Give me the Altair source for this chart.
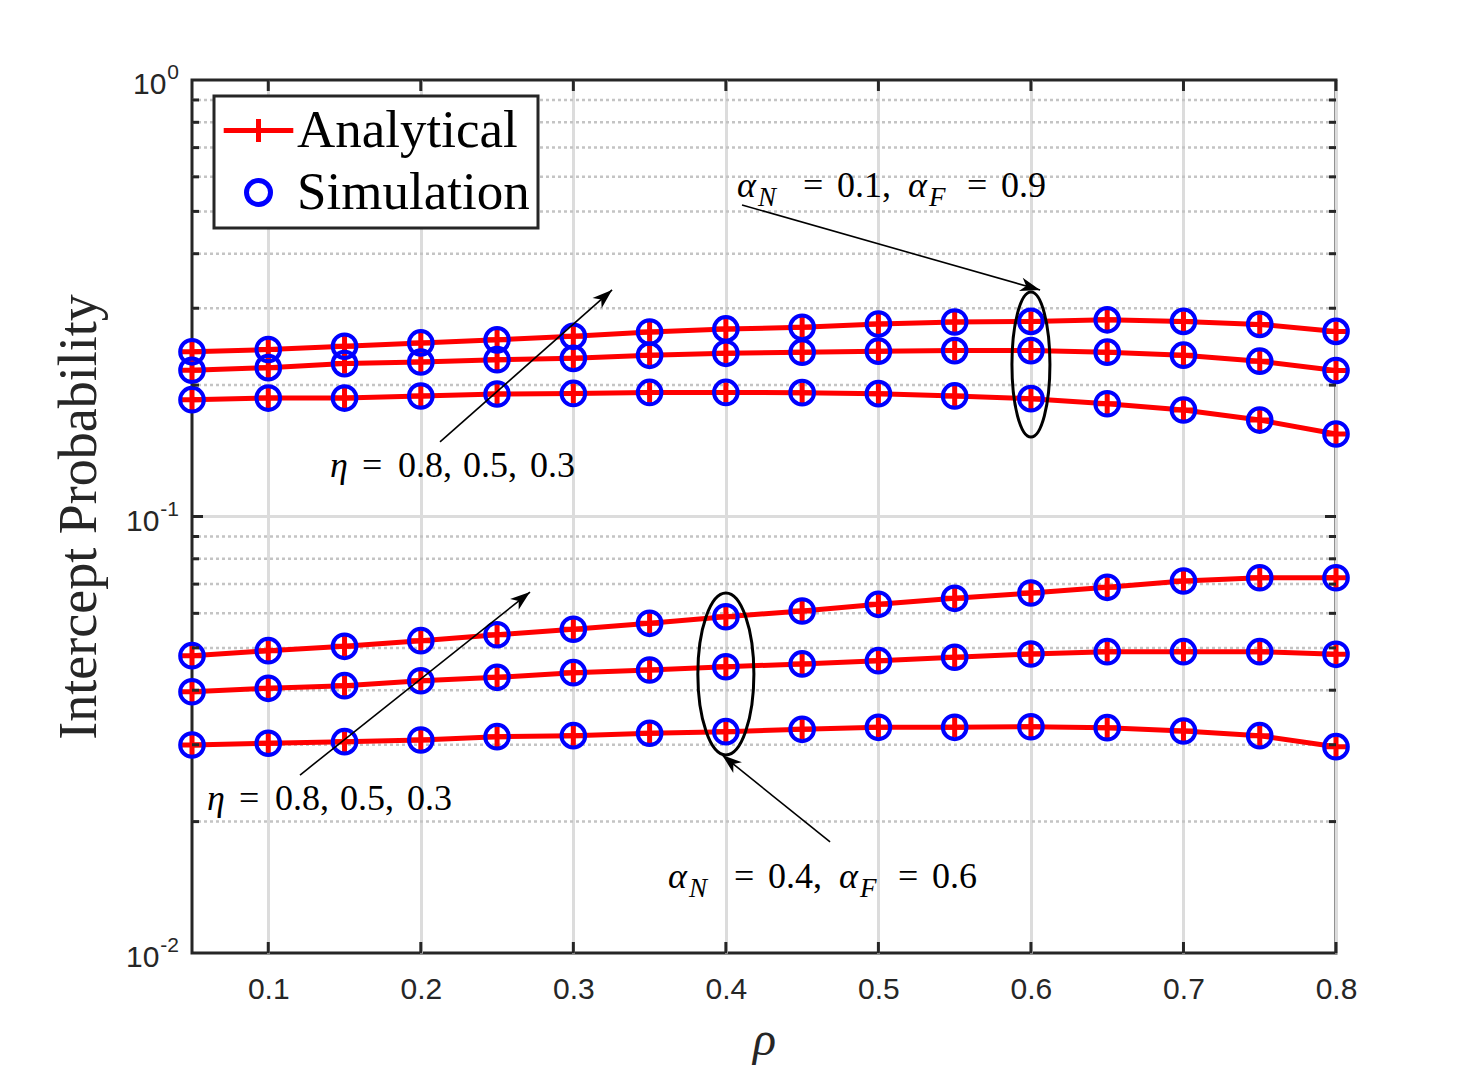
import math
import altair as alt
import pandas as pd

# ---------------------------------------------------------------- data
rho = [0.05, 0.10, 0.15, 0.20, 0.25, 0.30, 0.35, 0.40,
       0.45, 0.50, 0.55, 0.60, 0.65, 0.70, 0.75, 0.80]

# alpha_N = 0.1, alpha_F = 0.9  (eta = 0.8, 0.5, 0.3)
ip_a01_eta08 = [0.2384, 0.2413, 0.2455, 0.2498, 0.2539, 0.2587, 0.2647, 0.2690,
                0.2712, 0.2760, 0.2790, 0.2799, 0.2822, 0.2799, 0.2755, 0.2655]
ip_a01_eta05 = [0.2163, 0.2193, 0.2240, 0.2259, 0.2287, 0.2303, 0.2340, 0.2365,
                0.2379, 0.2392, 0.2399, 0.2399, 0.2379, 0.2342, 0.2269, 0.2160]
ip_a01_eta03 = [0.1852, 0.1868, 0.1868, 0.1888, 0.1908, 0.1914, 0.1924, 0.1924,
                0.1922, 0.1912, 0.1889, 0.1862, 0.1813, 0.1754, 0.1663, 0.1545]
# alpha_N = 0.4, alpha_F = 0.6  (eta = 0.8, 0.5, 0.3)
ip_a04_eta08 = [0.04799, 0.04927, 0.05042, 0.05194, 0.05360, 0.05516, 0.05692, 0.05894,
                0.06074, 0.06292, 0.06495, 0.06679, 0.06883, 0.07115, 0.07240, 0.07240]
ip_a04_eta05 = [0.03968, 0.04040, 0.04096, 0.04205, 0.04281, 0.04387, 0.04449, 0.04527,
                0.04594, 0.04674, 0.04759, 0.04842, 0.04901, 0.04901, 0.04901, 0.04834]
ip_a04_eta03 = [0.02996, 0.03023, 0.03049, 0.03076, 0.03130, 0.03147, 0.03187, 0.03214,
                0.03254, 0.03289, 0.03289, 0.03299, 0.03282, 0.03226, 0.03147, 0.02969]

analytical = {
    "a01_eta08": ip_a01_eta08, "a01_eta05": ip_a01_eta05, "a01_eta03": ip_a01_eta03,
    "a04_eta08": ip_a04_eta08, "a04_eta05": ip_a04_eta05, "a04_eta03": ip_a04_eta03,
}
# Monte-Carlo results coincide with the closed-form curves
simulation = {k: list(v) for k, v in analytical.items()}

series_names = ["Analytical", "Simulation"]
x_ticks = [0.1, 0.2, 0.3, 0.4, 0.5, 0.6, 0.7, 0.8]
y_major = [0.01, 0.1, 1.0]
y_exponents = ["-2", "-1", "0"]
y_minor = [m * d for d in (0.01, 0.1) for m in range(2, 10)]

# ---------------------------------------------------------------- geometry
W, H = 1144, 873
X_MIN, X_MAX = 0.05, 0.80
Y_MIN, Y_MAX = 0.01, 1.0

def px(r):
    return (r - X_MIN) / (X_MAX - X_MIN) * W

def py(p):
    return (math.log10(Y_MAX) - math.log10(p)) / (math.log10(Y_MAX) - math.log10(Y_MIN)) * H

INK = "#262626"
SERIF = "Liberation Serif"
SANS = "Liberation Sans"

x_scale = alt.Scale(domain=[X_MIN, X_MAX], nice=False, zero=False)
y_scale = alt.Scale(type="log", domain=[Y_MIN, Y_MAX], nice=False)

x_axis = alt.Axis(values=x_ticks, format=".1f", title="ρ", grid=True,
                  gridColor="#dcdcdc", gridWidth=3, ticks=False, domain=False,
                  labelFlush=False, labelFont=SANS, labelFontSize=30, labelColor=INK,
                  labelPadding=21, titleFont=SERIF, titleFontStyle="italic",
                  titleFontWeight="normal", titleFontSize=48, titleColor=INK,
                  titlePadding=12)
y_axis = alt.Axis(values=y_major, grid=False, ticks=False, domain=False, labels=False,
                  title="Intercept Probability", titleFont=SERIF, titleFontSize=54,
                  titleFontWeight="normal", titleColor=INK, titlePadding=86)

def X(field="rho"):
    return alt.X(f"{field}:Q", scale=x_scale, axis=x_axis)

def Y(field="ip"):
    return alt.Y(f"{field}:Q", scale=y_scale, axis=y_axis)

# ---------------------------------------------------------------- tables
ana_df = pd.DataFrame([
    {"rho": r, "ip": v, "curve": k}
    for k, vals in analytical.items() for r, v in zip(rho, vals)
])
sim_df = pd.DataFrame([
    {"rho": r, "ip": v, "curve": k}
    for k, vals in simulation.items() for r, v in zip(rho, vals)
])

# ---------------------------------------------------------------- grid
grid_minor = alt.Chart(pd.DataFrame({"ip": y_minor})).mark_rule(
    color="#c4c4c4", strokeWidth=2.5, strokeDash=[3, 3]
).encode(y=Y(), x=alt.value(0), x2=alt.value(W))

grid_major = alt.Chart(pd.DataFrame({"ip": [0.1]})).mark_rule(
    color="#dcdcdc", strokeWidth=3
).encode(y=Y(), x=alt.value(0), x2=alt.value(W))

# ---------------------------------------------------------------- y tick labels (10 with superscript exponent)
EXP_FS, BASE_FS = 21, 30

def exp_width(s):
    return sum(0.333 if c == "-" else 0.556 for c in s) * EXP_FS

ylabels = []
for v, e in zip(y_major, y_exponents):
    d = pd.DataFrame({"ip": [v]})
    ylabels.append(alt.Chart(d).mark_text(
        text=e, align="right", baseline="alphabetic", dy=-1,
        font=SANS, fontSize=EXP_FS, color=INK
    ).encode(y=Y(), x=alt.value(-13)))
    ylabels.append(alt.Chart(d).mark_text(
        text="10", align="right", baseline="alphabetic", dy=14,
        font=SANS, fontSize=BASE_FS, color=INK
    ).encode(y=Y(), x=alt.value(-14 - exp_width(e))))

# ---------------------------------------------------------------- curves
PLUS = "M-1,0L1,0M0,-1L0,1"
lines = alt.Chart(ana_df).mark_line(color="#ff0000", strokeWidth=5).encode(
    x=X(), y=Y(), detail="curve:N", order="rho:Q")
plus = alt.Chart(ana_df).mark_point(
    shape=PLUS, size=420, filled=False, stroke="#ff0000", strokeWidth=5, opacity=1
).encode(x=X(), y=Y())
circles = alt.Chart(sim_df).mark_point(
    shape="circle", size=560, filled=False, stroke="#0000ff", strokeWidth=4, opacity=1
).encode(x=X(), y=Y())

# ---------------------------------------------------------------- legend (scale-driven)
LEGEND_LINE_PLUS = "M-2.9,0L2.9,0M0,-0.95L0,0.95"
legend_props = dict(title=None, orient="none", legendX=22, legendY=16,
                    labelFont=SERIF, labelFontSize=53, labelColor="black", labelLimit=600,
                    labelOffset=12, symbolOffset=10, symbolSize=576,
                    symbolStrokeWidth=5, symbolOpacity=1, padding=8,
                    rowPadding=8, fillColor="white", strokeColor=INK)
legend_layer = alt.Chart(pd.DataFrame({"rho": [rho[0]] * 2, "ip": [ip_a01_eta08[0]] * 2,
                                       "kind": series_names})).mark_point(
    filled=False, strokeWidth=5
).encode(
    x=X(), y=Y(),
    shape=alt.Shape("kind:N", scale=alt.Scale(domain=series_names,
                                              range=[LEGEND_LINE_PLUS, "circle"]),
                    legend=alt.Legend(**legend_props)),
    color=alt.Color("kind:N", scale=alt.Scale(domain=series_names,
                                              range=["#ff0000", "#0000ff"]),
                    legend=alt.Legend(**legend_props)),
).transform_filter("false")

# ---------------------------------------------------------------- ellipses
def ellipse(center_rho, center_ip, half_w, half_h):
    rx = half_w / half_h
    path = f"M0,-1A{rx:.3f},1 0 1,1 0,1A{rx:.3f},1 0 1,1 0,-1Z"
    return alt.Chart(pd.DataFrame({"rho": [center_rho], "ip": [center_ip]})).mark_point(
        shape=path, size=(2 * half_h) ** 2, filled=False, stroke="black",
        strokeWidth=3, opacity=1
    ).encode(x=X(), y=Y())

ell_top = ellipse(0.60, 0.2229, 19, 72.5)
ell_bot = ellipse(0.40, 0.04357, 28, 81)

# ---------------------------------------------------------------- arrows
arrow_tail = [(0.2126, 0.1482), (0.1208, 0.02557), (0.4106, 0.5173), (0.4683, 0.01796)]
arrow_head = [(0.3254, 0.3304), (0.2716, 0.06714), (0.6060, 0.3304), (0.3975, 0.02842)]

arrow_df = pd.DataFrame({
    "rho": [t[0] for t in arrow_tail], "ip": [t[1] for t in arrow_tail],
    "rho2": [h[0] for h in arrow_head], "ip2": [h[1] for h in arrow_head],
})
arrow_df["angle"] = [
    math.degrees(math.atan2(px(h[0]) - px(t[0]), -(py(h[1]) - py(t[1])))) % 360
    for t, h in zip(arrow_tail, arrow_head)
]
shafts = alt.Chart(arrow_df).mark_rule(color="black", strokeWidth=1.6).encode(
    x=X(), y=Y(), x2="rho2:Q", y2="ip2:Q")
HEAD = "M0,0L0.5,1.45L0,1.05L-0.5,1.45Z"
heads = alt.Chart(arrow_df).mark_point(
    shape=HEAD, size=760, filled=True, fill="black", stroke=None, opacity=1
).encode(x=X("rho2"), y=Y("ip2"), angle=alt.Angle("angle:Q", scale=None))

# ---------------------------------------------------------------- math labels
FS, FS_SUB = 36, 27

def math_label(r0, p0, pieces):
    layers = []
    d = pd.DataFrame({"rho": [r0], "ip": [p0]})
    for txt, dx, italic, sub in pieces:
        layers.append(alt.Chart(d).mark_text(
            text=txt, dx=dx, dy=9 if sub else 0, align="left", baseline="alphabetic",
            font=SERIF, fontSize=FS_SUB if sub else FS,
            fontStyle="italic" if italic else "normal", color="black"
        ).encode(x=X(), y=Y()))
    return layers

def alpha_pieces(a_n, a_f):
    return [("α", 0, True, False), ("N", 21, True, True), ("=", 66, False, False),
            (f"{a_n},", 100, False, False), ("α", 171, True, False),
            ("F", 192, True, True), ("=", 230, False, False), (a_f, 264, False, False)]

eta_pieces = [("η", 0, True, False), ("=", 32, False, False), ("0.8,", 68, False, False),
              ("0.5,", 133, False, False), ("0.3", 200, False, False)]

labels = []
labels += math_label(0.4073, 0.5395, alpha_pieces("0.1", "0.9"))
labels += math_label(0.3621, 0.01409, alpha_pieces("0.4", "0.6"))
labels += math_label(0.1405, 0.1232, eta_pieces)
labels += math_label(0.0598, 0.02127, eta_pieces)

# ---------------------------------------------------------------- inward ticks
xt = pd.DataFrame({"rho": x_ticks})
tick_x_bot = alt.Chart(xt).mark_rule(color=INK, strokeWidth=3).encode(
    x=X(), y=alt.value(H), y2=alt.value(H - 11))
tick_x_top = alt.Chart(xt).mark_rule(color=INK, strokeWidth=3).encode(
    x=X(), y=alt.value(0), y2=alt.value(11))
ym = pd.DataFrame({"ip": y_minor})
yM = pd.DataFrame({"ip": [0.1]})
tick_y = [
    alt.Chart(ym).mark_rule(color=INK, strokeWidth=3).encode(y=Y(), x=alt.value(0), x2=alt.value(7)),
    alt.Chart(ym).mark_rule(color=INK, strokeWidth=3).encode(y=Y(), x=alt.value(W), x2=alt.value(W - 7)),
    alt.Chart(yM).mark_rule(color=INK, strokeWidth=3).encode(y=Y(), x=alt.value(0), x2=alt.value(11)),
    alt.Chart(yM).mark_rule(color=INK, strokeWidth=3).encode(y=Y(), x=alt.value(W), x2=alt.value(W - 11)),
]

chart = alt.layer(
    grid_minor, grid_major, lines, plus, circles, ell_top, ell_bot, shafts, heads,
    *labels, *ylabels, tick_x_bot, tick_x_top, *tick_y, legend_layer
).properties(
    width=W, height=H,
    autosize=alt.AutoSizeParams(type="none"),
    padding={"left": 192, "top": 80, "right": 142, "bottom": 120},
    background="white",
).configure_view(
    stroke=INK, strokeWidth=3
).configure_legend(
    strokeWidth=3
)

chart.save("out.html", embed_options={"renderer": "svg", "actions": False})
